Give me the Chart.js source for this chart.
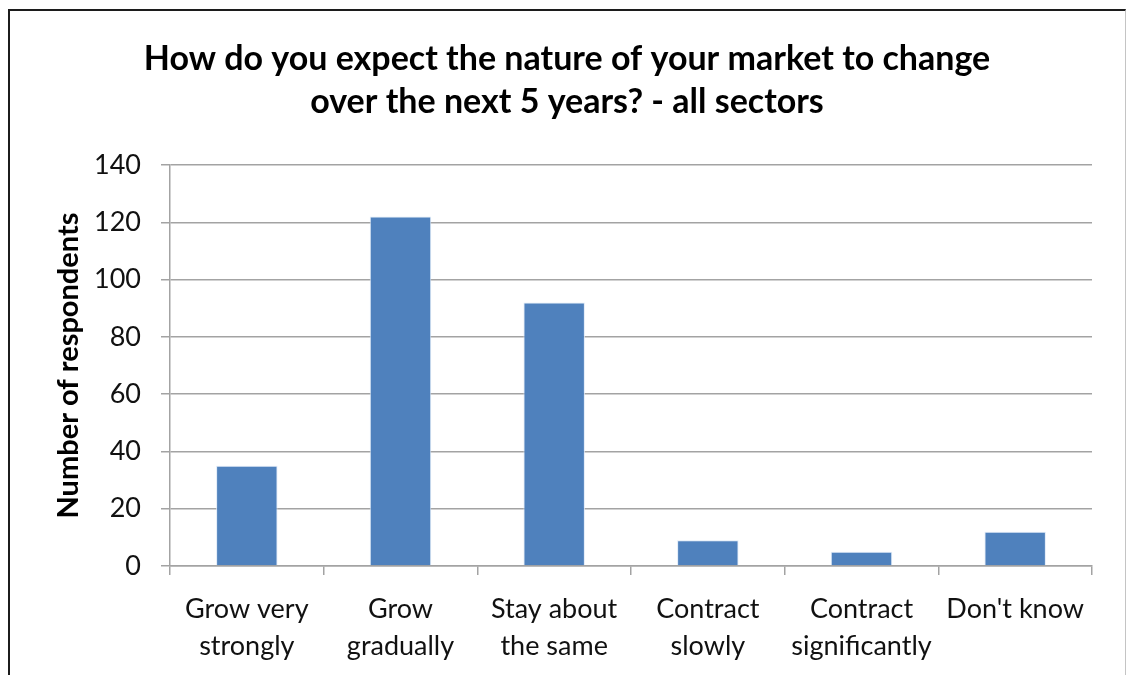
<!DOCTYPE html>
<html>
<head>
<meta charset="utf-8">
<title>Market outlook - all sectors</title>
<script src="https://cdn.jsdelivr.net/npm/chart.js@4/dist/chart.umd.min.js"></script>
<style>
  html, body { margin: 0; padding: 0; background: #fff; overflow: hidden; }
  #frame {
    position: absolute; left: 8px; top: 9px; width: 1115px; height: 700px;
    border-top: 2px solid #1c1c1c; border-left: 2px solid #1c1c1c; border-right: 1px solid #c4c4c4;
  }
  #wrap { position: absolute; left: 0; top: 0; width: 1126px; height: 675px; }
</style>
</head>
<body>
<div id="frame"></div>
<div id="wrap"><canvas id="chartMercado"></canvas></div>
<script>
// answers to the survey question
const categorias = [
    ['Grow very', 'strongly'],
    ['Grow', 'gradually'],
    ['Stay about', 'the same'],
    ['Contract', 'slowly'],
    ['Contract', 'significantly'],
    ["Don't know"]
];
const respuestas = [35, 122, 92, 9, 5, 12];
const tituloLineas = [
    'How do you expect the nature of your market to change',
    'over the next 5 years? - all sectors'
];
const ejeY = 'Number of respondents';
const yMin = 0, yMax = 140, yPaso = 20;

document.addEventListener('DOMContentLoaded', function() {
    const fuente = 'Lato, "Open Sans", sans-serif';
    const gris = '#a3a3a3';

    const ctx = document.getElementById('chartMercado').getContext('2d');
    new Chart(ctx, {
        type: 'bar',
        data: {
            labels: categorias,
            datasets: [{
                label: ejeY,
                data: respuestas,
                backgroundColor: '#4f81bd',
                borderColor: 'rgba(220,232,246,0.9)',
                borderWidth: 1,
                borderSkipped: 'bottom',
                barPercentage: 0.4,
                categoryPercentage: 1
            }]
        },
        options: {
            responsive: true,
            maintainAspectRatio: false,
            animation: false,
            layout: { padding: { left: 8, right: 0, top: 0, bottom: 0 } },
            scales: {
                x: {
                    grid: {
                        offset: true,
                        drawOnChartArea: false,
                        drawTicks: true,
                        tickLength: 9,
                        color: gris,
                        lineWidth: 1.5
                    },
                    border: { color: gris, width: 1.5 },
                    ticks: {
                        autoSkip: false,
                        maxRotation: 0,
                        minRotation: 0,
                        padding: 15,
                        color: '#111',
                        font: { family: fuente, size: 27, lineHeight: 1.4 }
                    },
                    afterFit: function(scale) { scale.height = 109; }
                },
                y: {
                    min: yMin,
                    max: yMax,
                    grid: { color: gris, lineWidth: 1.5, tickLength: 9 },
                    border: { color: gris, width: 1.5 },
                    ticks: {
                        stepSize: yPaso,
                        padding: 20,
                        color: '#111',
                        font: { family: fuente, size: 27 }
                    },
                    title: {
                        display: true,
                        text: ejeY,
                        color: '#000',
                        padding: { top: 43, bottom: 0 },
                        font: { family: fuente, size: 29, weight: 'bold' }
                    },
                    afterFit: function(scale) { scale.width = 162; }
                },
                // empty right margin so the title stays centred on the frame
                margen: {
                    type: 'linear',
                    position: 'right',
                    grid: { display: false },
                    border: { display: false },
                    ticks: { display: false },
                    afterFit: function(scale) { scale.width = 34; }
                }
            },
            plugins: {
                legend: { display: false },
                tooltip: { enabled: false },
                title: {
                    display: true,
                    text: tituloLineas,
                    color: '#000',
                    padding: { top: 38, bottom: 41 },
                    font: { family: fuente, size: 34, weight: 'bold', lineHeight: '43px' }
                }
            }
        }
    });
});
</script>
</body>
</html>
